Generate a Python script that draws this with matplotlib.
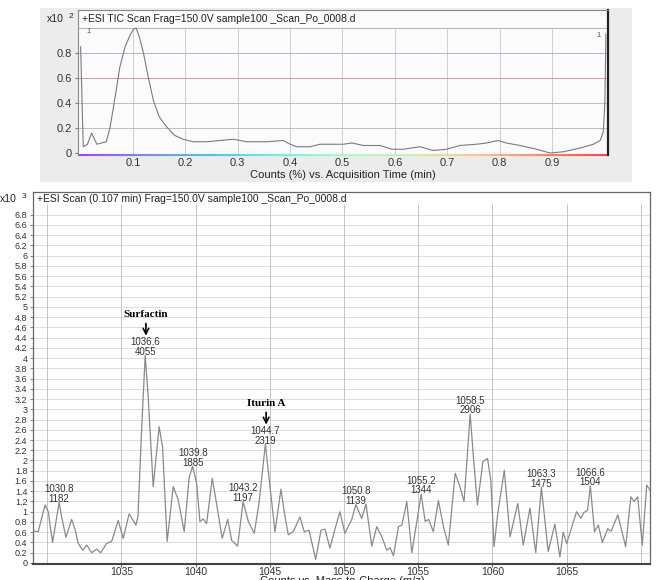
import matplotlib
matplotlib.use('Agg')
import matplotlib.pyplot as plt
from matplotlib.patches import Rectangle
from matplotlib.collections import LineCollection
import numpy as np

plt.rcParams['font.family'] = ['Liberation Sans', 'DejaVu Sans']

# --- TIC trace (x10^2 counts %, vs. acquisition time in min) ---
tic_time = [0.0, 0.005, 0.013, 0.021, 0.031, 0.040, 0.049, 0.056, 0.066, 0.075,
            0.085, 0.094, 0.101, 0.106, 0.112, 0.120, 0.129, 0.139, 0.150, 0.164,
            0.180, 0.196, 0.215, 0.241, 0.266, 0.292, 0.317, 0.355, 0.387, 0.400,
            0.413, 0.438, 0.457, 0.476, 0.502, 0.518, 0.540, 0.572, 0.594, 0.616,
            0.648, 0.673, 0.699, 0.724, 0.756, 0.775, 0.797, 0.813, 0.839, 0.871,
            0.896, 0.922, 0.954, 0.979, 0.992, 0.998, 1.001, 1.003]
tic_counts = [0.85, 0.05, 0.07, 0.16, 0.07, 0.08, 0.09, 0.20, 0.45, 0.69,
              0.85, 0.94, 0.99, 1.00, 0.93, 0.80, 0.61, 0.42, 0.29, 0.21,
              0.14, 0.11, 0.09, 0.09, 0.10, 0.11, 0.09, 0.09, 0.10, 0.07,
              0.05, 0.05, 0.07, 0.07, 0.07, 0.08, 0.06, 0.06, 0.03, 0.03,
              0.05, 0.02, 0.03, 0.06, 0.07, 0.08, 0.10, 0.08, 0.06, 0.03,
              0.00, 0.01, 0.04, 0.07, 0.10, 0.17, 0.40, 0.95]

tic_xticks = [0.1, 0.2, 0.3, 0.4, 0.5, 0.6, 0.7, 0.8, 0.9]
tic_yticks = [0, 0.2, 0.4, 0.6, 0.8]

# --- mass spectrum at 0.107 min (x10^3 counts) ---
mz = [1029.04, 1029.39, 1029.85, 1030.07, 1030.36, 1030.80, 1030.97, 1031.26, 1031.64, 1031.87,
      1032.09, 1032.39, 1032.66, 1032.99, 1033.33, 1033.60, 1034.00, 1034.34, 1034.78, 1035.12,
      1035.52, 1035.98, 1036.11, 1036.36, 1036.60, 1036.80, 1037.14, 1037.54, 1037.77, 1038.08,
      1038.49, 1038.83, 1039.23, 1039.57, 1039.80, 1040.07, 1040.29, 1040.51, 1040.74, 1041.12,
      1041.41, 1041.79, 1042.16, 1042.43, 1042.83, 1043.20, 1043.55, 1043.95, 1044.27, 1044.70,
      1045.01, 1045.35, 1045.75, 1045.97, 1046.24, 1046.58, 1047.03, 1047.32, 1047.64, 1048.09,
      1048.45, 1048.72, 1049.05, 1049.39, 1049.72, 1050.06, 1050.51, 1050.80, 1051.19, 1051.48,
      1051.87, 1052.21, 1052.55, 1052.88, 1053.10, 1053.33, 1053.67, 1053.90, 1054.23, 1054.57,
      1055.20, 1055.47, 1055.70, 1056.02, 1056.36, 1056.70, 1057.03, 1057.49, 1057.78, 1058.09,
      1058.50, 1058.72, 1058.99, 1059.36, 1059.67, 1059.89, 1060.11, 1060.37, 1060.80, 1061.19,
      1061.71, 1062.08, 1062.53, 1062.92, 1063.30, 1063.76, 1064.21, 1064.55, 1064.77, 1065.00,
      1065.67, 1065.96, 1066.15, 1066.41, 1066.60, 1066.88, 1067.14, 1067.41, 1067.77, 1068.00,
      1068.45, 1068.98, 1069.33, 1069.55, 1069.79, 1070.10, 1070.40, 1070.62]
intensity = [0.63, 0.61, 1.13, 1.00, 0.40, 1.182, 0.90, 0.50, 0.85, 0.66,
             0.38, 0.25, 0.35, 0.20, 0.27, 0.20, 0.38, 0.42, 0.83, 0.48,
             0.96, 0.74, 0.90, 2.60, 4.055, 3.25, 1.49, 2.66, 2.27, 0.42,
             1.49, 1.23, 0.61, 1.68, 1.885, 1.55, 0.81, 0.86, 0.77, 1.65,
             1.16, 0.48, 0.85, 0.44, 0.33, 1.197, 0.81, 0.58, 1.16, 2.319,
             1.49, 0.61, 1.44, 1.00, 0.55, 0.61, 0.90, 0.61, 0.64, 0.07,
             0.64, 0.66, 0.29, 0.66, 1.00, 0.58, 0.84, 1.139, 0.87, 1.15,
             0.33, 0.71, 0.51, 0.25, 0.30, 0.14, 0.71, 0.74, 1.20, 0.20,
             1.344, 0.81, 0.85, 0.61, 1.22, 0.71, 0.35, 1.75, 1.52, 1.20,
             2.906, 2.07, 1.13, 1.98, 2.04, 1.62, 0.32, 0.98, 1.81, 0.51,
             1.16, 0.35, 1.07, 0.20, 1.475, 0.22, 0.76, 0.12, 0.60, 0.38,
             1.00, 0.87, 0.98, 1.03, 1.504, 0.61, 0.74, 0.40, 0.67, 0.62,
             0.94, 0.32, 1.29, 1.20, 1.29, 0.35, 1.52, 1.42]

peak_mz = [1030.8, 1036.6, 1039.8, 1043.2, 1044.7, 1050.8, 1055.2, 1058.5, 1063.3, 1066.6]
peak_int = [1182, 4055, 1885, 1197, 2319, 1139, 1344, 2906, 1475, 1504]

mz_ticks = [1035, 1040, 1045, 1050, 1055, 1060, 1065]
mz_grid = [1030, 1035, 1040, 1045, 1050, 1055, 1060, 1065, 1070]
int_ticks = [round(0.2 * k, 1) for k in range(35)]

W, H = 657, 580
fig = plt.figure(figsize=(W / 100, H / 100), dpi=100)

# grey backdrop of the upper (TIC) window
fig.patches.append(Rectangle((40 / W, 1 - 182 / H), 592 / W, 174 / H,
                             transform=fig.transFigure, facecolor='#ececec',
                             edgecolor='none', zorder=-5))

# ================= upper panel: TIC =================
ax1 = fig.add_axes([78 / W, 1 - 155 / H, 530 / W, 145 / H])
ax1.set_facecolor('#fbfbfd')
ax1.set_xlim(-0.005, 1.007)
ax1.set_ylim(-0.016, 1.144)

ax1.vlines(tic_xticks, -0.016, 1.0, color='#c8c8c8', lw=0.6, zorder=1)
ax1.hlines(tic_yticks[1:], -0.005, 1.007,
           colors=['#d0b4bb', '#d0b4bb', '#dc98a4', '#b2b5cc'], lw=0.7, zorder=1)
ax1.axhline(1.0, color='#b4b4b4', lw=0.7, zorder=1)
ax1.plot(tic_time, tic_counts, color='#7c7c7c', lw=0.8, zorder=3)

ax1.text(0.002, 1.072, '+ESI TIC Scan Frag=150.0V sample100 _Scan_Po_0008.d',
         fontsize=7.5, va='center', ha='left', color='#222')
ax1.text(0.012, 0.975, '1', fontsize=5.5, va='center', color='#555')
ax1.text(0.993, 0.94, '1', fontsize=5.5, va='center', ha='right', color='#555')

ax1.set_xticks(tic_xticks)
ax1.set_xticklabels([f'{t:g}' for t in tic_xticks], fontsize=8, color='#333')
ax1.set_yticks(tic_yticks)
ax1.set_yticklabels([f'{t:g}' for t in tic_yticks], fontsize=8, color='#333')
ax1.tick_params(axis='x', length=0, pad=2)
ax1.tick_params(axis='y', length=2.5, pad=2, color='#777')

for side in ['left', 'top']:
    ax1.spines[side].set_color('#8a8a8a')
    ax1.spines[side].set_linewidth(0.8)
ax1.spines['right'].set_color('#222')
ax1.spines['right'].set_linewidth(1.6)
ax1.spines['bottom'].set_visible(False)

# multicoloured bottom edge
xs = np.linspace(0, 1, 60)
segs = [[(xs[i], 0), (xs[i + 1], 0)] for i in range(len(xs) - 1)]
lc = LineCollection(segs, colors=plt.cm.rainbow(np.linspace(0, 1, len(segs))),
                    linewidths=1.5, transform=ax1.transAxes, clip_on=False, alpha=0.7)
ax1.add_collection(lc)

fig.text(343 / W, 1 - 175 / H, 'Counts (%) vs. Acquisition Time (min)',
         fontsize=8, ha='center', va='center', color='#222')
fig.text(47 / W, 1 - 19 / H, 'x10', fontsize=7.5, ha='left', va='center', color='#222')
fig.text(69 / W, 1 - 17 / H, '2', fontsize=6, ha='left', va='center', color='#222')

# ================= lower panel: spectrum =================
ax2 = fig.add_axes([33 / W, 1 - 564 / H, 617 / W, 372 / H])
ax2.set_xlim(1029.04, 1070.62)
ax2.set_ylim(-0.02, 7.24)

ax2.hlines(int_ticks[1:], 1029.04, 1070.62, color='#d8d8d8', lw=0.6, zorder=1)
ax2.vlines(mz_grid, -0.02, 7.0, color='#c4c4c4', lw=0.7, zorder=1)
ax2.plot(mz, intensity, color='#8a8a8a', lw=0.9, zorder=3)

ax2.text(1029.31, 7.10, '+ESI Scan (0.107 min) Frag=150.0V sample100 _Scan_Po_0008.d',
         fontsize=7.5, va='center', ha='left', color='#222')

for m, i in zip(peak_mz, peak_int):
    ax2.annotate(f'{m:.1f}\n{i}', (m, i / 1000), xytext=(0, -1),
                 textcoords='offset points', ha='center', va='bottom',
                 fontsize=7, linespacing=0.95, color='#333', zorder=4)

# compound labels
for name, k in [('Surfactin', 1), ('Iturin A', 4)]:
    top = peak_int[k] / 1000
    ax2.annotate('', xy=(peak_mz[k] + 0.05, top + 0.38), xytext=(peak_mz[k] + 0.05, top + 0.62),
                 arrowprops=dict(arrowstyle='->', color='black', lw=1.2,
                                 shrinkA=0, shrinkB=0))
    ax2.text(peak_mz[k] + 0.05, top + 0.80, name, family='Liberation Serif',
             fontweight='bold', fontsize=8, ha='center', va='center', color='black')

ax2.set_xticks(mz_ticks)
ax2.set_xticklabels([str(t) for t in mz_ticks], fontsize=7.5, color='#333')
ax2.set_yticks(int_ticks)
ax2.set_yticklabels([f'{t:g}' for t in int_ticks], fontsize=6.5, color='#333')
ax2.tick_params(axis='x', length=2.5, pad=0, color='#666')
ax2.tick_params(axis='y', length=2.5, pad=1.5, color='#888')

for side in ['left', 'top', 'right']:
    ax2.spines[side].set_color('#666')
    ax2.spines[side].set_linewidth(0.9)
ax2.spines['bottom'].set_color('#444')
ax2.spines['bottom'].set_linewidth(1.5)

fig.text(0 / W, 1 - 199 / H, 'x10', fontsize=7.5, ha='left', va='center', color='#222')
fig.text(22 / W, 1 - 197 / H, '3', fontsize=6, ha='left', va='center', color='#222')
# the axis title sits at the bottom edge, partly cut off as in the original screenshot
fig.text(342 / W, 1 - 576.5 / H, 'Counts vs. Mass-to-Charge (m/z)',
         fontsize=8, ha='center', va='top', color='#222')

fig.savefig('out.png', dpi=100)
